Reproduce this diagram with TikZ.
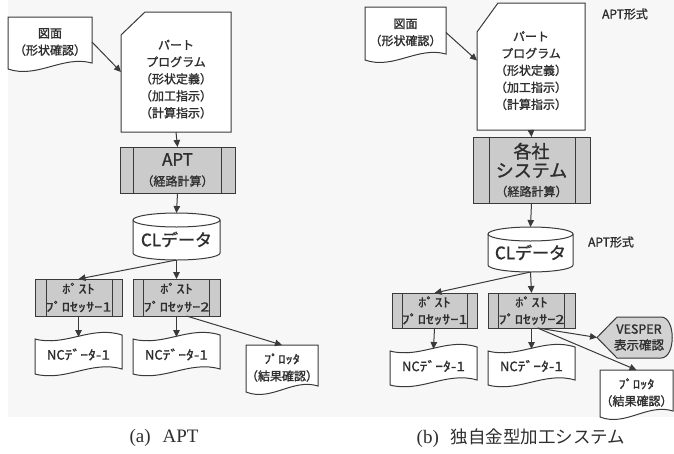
\documentclass[tikz,border=0pt]{standalone}
\usepackage{fontspec}
\newfontfamily\jp[FakeBold=1.3]{Noto Sans CJK JP}
\newfontfamily\hwA[FakeStretch=1.3,FakeBold=1.3]{Noto Sans CJK JP}
\newfontfamily\hwB[FakeStretch=1.2,FakeBold=1.3]{Noto Sans CJK JP}
\newfontfamily\capjp{Noto Sans CJK JP}
\newfontfamily\capserif{Liberation Serif}
\usetikzlibrary{arrows.meta,calc}
\definecolor{ink}{HTML}{2E2E2E}
\definecolor{lin}{HTML}{3A3A3A}
\definecolor{procgray}{HTML}{CBCBCB}
\definecolor{vesgray}{HTML}{D2D2D2}
\definecolor{pagebg}{HTML}{F7F7F7}
\pgfdeclarelayer{pagebglayer}
\pgfdeclarelayer{shapelayer}
\pgfsetlayers{pagebglayer,shapelayer,main}
\newcommand\sh[2]{\raisebox{#1}[\height][\depth]{\begin{tabular}{@{}c@{}}#2\end{tabular}}}
% document shape: flat top, wavy bottom
\newcommand\docbottom[1]{%
  \draw[ln,fill=white] ($(#1.south west)+(0,2)$) -- (#1.north west) -- (#1.north east)
    -- ($(#1.south east)+(0,-4)$)
    .. controls ($(#1.south west)!0.65!(#1.south east)+(0,-12)$) and ($(#1.south west)!0.35!(#1.south east)+(0,12)$)
    .. ($(#1.south west)+(0,2)$) -- cycle;}
% punched tape shape
\newcommand\tapeshape[1]{%
  \draw[ln,fill=white] ($(#1.north west)+(0,2)$)
    .. controls ($(#1.north west)!0.35!(#1.north east)+(0,10)$) and ($(#1.north west)!0.65!(#1.north east)+(0,-12)$)
    .. ($(#1.north east)+(0,-2)$) -- ($(#1.south east)+(0,-3)$)
    .. controls ($(#1.south west)!0.65!(#1.south east)+(0,-12)$) and ($(#1.south west)!0.35!(#1.south east)+(0,10)$)
    .. ($(#1.south west)+(0,2)$) -- cycle;}
% card with cut top-left corner
\newcommand\cardshape[3]{%
  \draw[ln,fill=white] ($(#1.north west)+(#2,0)$) -- (#1.north east) -- (#1.south east)
    -- (#1.south west) -- ($(#1.north west)+(0,#3)$) -- cycle;}
% cylinder: name, x radius, y radius
\newcommand\cylshape[3]{%
  \draw[ln,fill=white] ($(#1.south west)+(0,-#3)$) arc[start angle=180,end angle=360,x radius=#2pt,y radius=#3pt]
    -- ($(#1.north east)+(0,#3)$) arc[start angle=0,end angle=180,x radius=#2pt,y radius=#3pt] -- cycle;
  \draw[ln] ($(#1.north west)+(0,#3)$) arc[start angle=180,end angle=360,x radius=#2pt,y radius=#3pt];}
% predefined process inner lines
\newcommand\predef[3]{%
  \draw[ln] ([xshift=#2pt]#1.north west) -- ([xshift=#2pt]#1.south west);
  \draw[ln] ([xshift=-#3pt]#1.north east) -- ([xshift=-#3pt]#1.south east);}
% display shape
\newcommand\dispshape[1]{%
  \draw[ln,fill=vesgray] (#1.west) -- ($(#1.north west)+(20,0)$) -- ($(#1.north east)+(-12,0)$)
    .. controls ($(#1.north east)+(3,0)$) and ($(#1.south east)+(3,0)$) .. ($(#1.south east)+(-12,0)$)
    -- ($(#1.south west)+(20,0)$) -- cycle;}
\tikzset{
  ln/.style={draw=lin,line width=1pt},
  arr/.style={draw=lin,line width=1pt,-{Triangle[length=7pt,width=6.5pt]}},
  sz/.style 2 args={minimum width=#1pt,minimum height=#2pt},
  box/.style={inner sep=0pt,outer sep=0pt,align=center,text=ink,font=\jp\fontsize{12}{17}\selectfont},
  proc/.style={box,draw=lin,line width=1pt,fill=procgray},
  lbl/.style={inner sep=0pt,text=ink,font=\jp\fontsize{12}{14}\selectfont},
  captext/.style={inner sep=0pt,text=ink,font=\capserif\fontsize{19}{22}\selectfont},
}
\begin{document}
\begin{tikzpicture}[x=1pt,y=-1pt]
\useasboundingbox (0,0) rectangle (674,453);
\begin{pgfonlayer}{pagebglayer}
  \fill[pagebg] (8,0) rectangle (674,417);
\end{pgfonlayer}

% ---------- (a) ----------
\node[box,sz={84}{50}] (dwgA) at (50,42) {図面\\（形状確認）};
\node[box,sz={110}{120}] (partA) at (176,72) {\sh{-8pt}{パート\\プログラム\\（形状定義）\\（加工指示）\\（計算指示）}};
\node[proc,sz={115}{46},font=\jp\fontsize{17}{20}\selectfont] (aptA) at (177.5,170) {APT\\{\fontsize{12}{17}\selectfont（経路計算）}};
\node[box,sz={87}{47}] (clA) at (176.5,236.5) {\sh{-5pt}{\fontsize{17}{19}\selectfont CLデータ}};
\node[proc,sz={87}{37},font=\hwA\fontsize{12.5}{18}\selectfont] (post1A) at (78.5,297.5) {ﾎﾟｽﾄ\\ﾌﾟﾛｾｯｻｰ1};
\node[proc,sz={87}{37},font=\hwA\fontsize{12.5}{18}\selectfont] (post2A) at (176.5,297.5) {ﾎﾟｽﾄ\\ﾌﾟﾛｾｯｻｰ2};
\node[box,sz={87}{35},font=\jp\fontsize{13}{17}\selectfont] (nc1A) at (78.5,354.5) {NC{\hwB ﾃﾞｰﾀ-1}};
\node[box,sz={87}{35},font=\jp\fontsize{13}{17}\selectfont] (nc2A) at (176.5,354.5) {NC{\hwB ﾃﾞｰﾀ-1}};
\node[box,sz={72}{45}] (plotA) at (282,367.5) {{\hwB ﾌﾟﾛｯﾀ}\\（結果確認）};

% ---------- (b) ----------
\node[box,sz={81}{51}] (dwgB) at (405.5,32.5) {図面\\（形状確認）};
\node[box,sz={108}{127}] (partB) at (531,66.5) {\sh{-5pt}{パート\\プログラム\\（形状定義）\\（加工指示）\\（計算指示）}};
\node[lbl] (fmt1) at (625,14) {APT形式};
\node[proc,sz={117}{66},font=\jp\fontsize{18}{19}\selectfont] (sysB) at (531.5,170) {各社\\システム\\{\fontsize{12}{19}\selectfont（経路計算）}};
\node[box,sz={85}{45}] (clB) at (530.5,249.5) {\sh{-5pt}{\fontsize{17}{19}\selectfont CLデータ}};
\node[lbl] (fmt2) at (611,242) {APT形式};
\node[proc,sz={85}{35},font=\hwA\fontsize{12.5}{17}\selectfont] (post1B) at (434.5,310.5) {ﾎﾟｽﾄ\\ﾌﾟﾛｾｯｻｰ1};
\node[proc,sz={87}{35},font=\hwA\fontsize{12.5}{17}\selectfont] (post2B) at (531.5,310.5) {ﾎﾟｽﾄ\\ﾌﾟﾛｾｯｻｰ2};
\node[box,sz={87}{34},font=\jp\fontsize{13}{17}\selectfont] (nc1B) at (433.5,366) {NC{\hwB ﾃﾞｰﾀ-1}};
\node[box,sz={87}{34},font=\jp\fontsize{13}{17}\selectfont] (nc2B) at (531.5,366) {NC{\hwB ﾃﾞｰﾀ-1}};
\node[box,sz={76}{41},font=\jp\fontsize{12.5}{16}\selectfont] (vesB) at (635,337.5) {\hspace{8pt}VESPER\\\hspace{8pt}表示確認};
\node[box,sz={73}{45}] (plotB) at (636.5,392.5) {{\hwB ﾌﾟﾛｯﾀ}\\（結果確認）};

% ---------- shapes ----------
\begin{pgfonlayer}{shapelayer}
  \docbottom{dwgA}
  \cardshape{partA}{24}{23}
  \cylshape{clA}{43.5}{7}
  \tapeshape{nc1A}
  \tapeshape{nc2A}
  \docbottom{plotA}
  \docbottom{dwgB}
  \cardshape{partB}{21}{29}
  \cylshape{clB}{42.5}{7}
  \tapeshape{nc1B}
  \tapeshape{nc2B}
  \dispshape{vesB}
  \docbottom{plotB}
\end{pgfonlayer}
\predef{aptA}{13}{14}
\predef{post1A}{11}{10}
\predef{post2A}{10}{11}
\predef{sysB}{16}{15}
\predef{post1B}{10}{10}
\predef{post2B}{10}{11}

% ---------- connectors ----------
\draw[arr] (dwgA.east) -- (partA.west);
\draw[arr] (partA.south) -- (aptA.north);
\draw[arr] (aptA.south) -- (clA.north);
\draw[arr] (clA.south) -- (post1A.north);
\draw[arr] (clA.south) -- (post2A.north);
\draw[arr] (post1A.south) -- (nc1A.north);
\draw[arr] (post2A.south) -- (nc2A.north);
\draw[arr] ([xshift=10pt]post2A.south) -- (plotA.north);

\draw[arr] (dwgB.east) -- ([yshift=6pt]partB.west);
\draw[arr] (partB.south) -- (sysB.north);
\draw[arr] (sysB.south) -- (clB.north);
\draw[arr] (clB.south) -- (post1B.north);
\draw[arr] (clB.south) -- (post2B.north);
\draw[arr] (post1B.south) -- (nc1B.north);
\draw[arr] (post2B.south) -- (nc2B.north);
\coordinate (p2out) at ([xshift=6pt]post2B.south);
\draw[arr] (p2out) -- (vesB.west);
\draw[arr] (p2out) -- (plotB.north);

% ---------- captions ----------
\node[captext] (capA) at (164,438) {(a)\hspace{12pt}APT};
\node[captext] (capB) at (521,438) {(b)\hspace{12pt}{\capjp\fontsize{17.5}{20}\selectfont 独自金型加工システム}};
\end{tikzpicture}
\end{document}
